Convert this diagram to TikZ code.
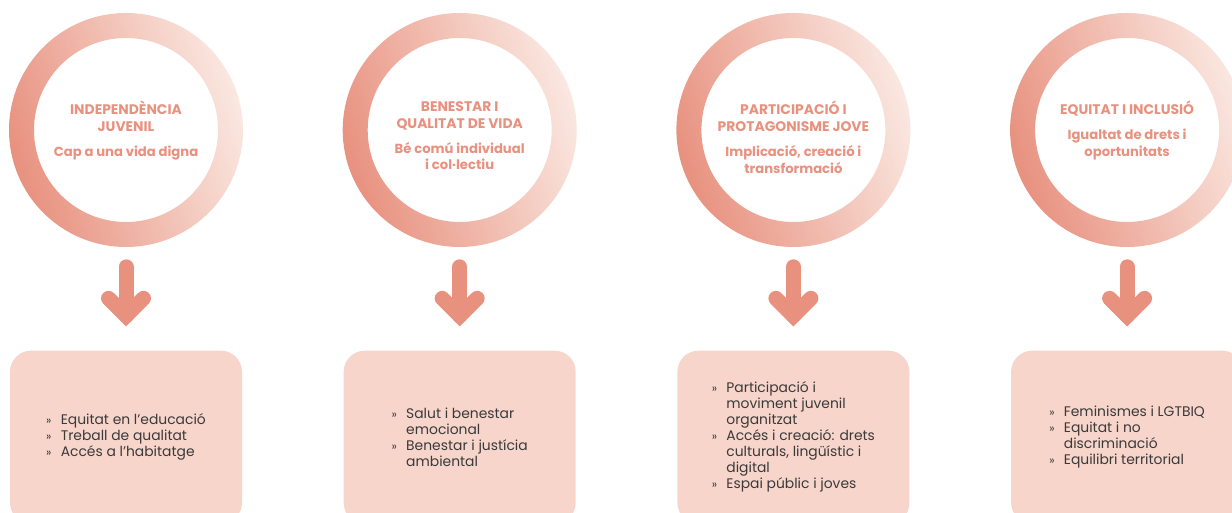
\documentclass[tikz,border=0pt]{standalone}
\usepackage{fontspec}
\setmainfont{Poppins}
\usetikzlibrary{positioning,calc}
\definecolor{salmon}{HTML}{E8917F}
\definecolor{ringlight}{HTML}{FAE8E1}
\definecolor{boxfill}{HTML}{F7D5CA}
\definecolor{textdark}{HTML}{3A3A3A}
\newcommand{\itm}{\makebox[1.05em][l]{\fontsize{6.5}{6.5}\selectfont »}}
\newcommand{\cnt}{\hspace*{1.05em}}
\newcommand{\sub}{\fontsize{7.5}{9.1}\selectfont}

\begin{document}
\begin{tikzpicture}[
    node distance=1.98cm,
    ring/.style={circle, minimum size=4.68cm, inner sep=0pt},
    ringshade/.style={even odd rule, bottom color=salmon, middle color=salmon!78!ringlight, top color=ringlight, shading angle=-72},
    ringtext/.style={anchor=north, align=center, inner sep=0pt, text=salmon, font=\fontsize{7.9}{9.6}\selectfont\bfseries},
    itembox/.style={rectangle, rounded corners=0.42cm, fill=boxfill, minimum width=4.64cm, minimum height=3.46cm, inner sep=0pt, align=left, text=textdark, font=\fontsize{7.9}{9.1}\selectfont},
    shaft/.style={salmon, line width=0.3cm, line cap=round}
]
\useasboundingbox (0,0) rectangle (24.64,10.26);

% Circles
\node[ring] (c1) at (2.52,7.66) {};
\node[ring, right=of c1] (c2) {};
\node[ring, right=of c2] (c3) {};
\node[ring, right=of c3] (c4) {};
\foreach \i in {1,...,4}
  \shade[ringshade] (c\i.center) circle (2.34) (c\i.center) circle (1.84);

% Circle titles
\node[ringtext] (t1) at ([yshift=0.58cm]c1.center) {INDEPENDÈNCIA\\JUVENIL\\[4.6pt]\sub Cap a una vida digna};
\node[ringtext] (t2) at ([yshift=0.58cm]c2.center) {BENESTAR I\\QUALITAT DE VIDA\\[4.6pt]\sub Bé comú individual\\\sub i col·lectiu};
\node[ringtext] (t3) at ([yshift=0.58cm]c3.center) {PARTICIPACIÓ I\\PROTAGONISME JOVE\\[4.6pt]\sub Implicació, creació i\\\sub transformació};
\node[ringtext] (t4) at ([yshift=0.58cm]c4.center) {EQUITAT I INCLUSIÓ\\[4.6pt]\sub Igualtat de drets i\\\sub oportunitats};

% Boxes
\node[itembox, below=2.06cm of c1] (b1) {\itm Equitat en l’educació\\ \itm Treball de qualitat\\ \itm Accés a l’habitatge};
\node[itembox, below=2.06cm of c2] (b2) {\itm Salut i benestar\\ \cnt emocional\\ \itm Benestar i justícia\\ \cnt ambiental};
\node[itembox, below=2.06cm of c3] (b3) {\itm Participació i\\ \cnt moviment juvenil\\ \cnt organitzat\\ \itm Accés i creació: drets\\ \cnt culturals, lingüístic i\\ \cnt digital\\ \itm Espai públic i joves};
\node[itembox, below=2.06cm of c4] (b4) {\itm Feminismes i LGTBIQ\\ \itm Equitat i no\\ \cnt discriminació\\ \itm Equilibri territorial};

% Arrows
\foreach \i in {1,...,4} {
  \draw[shaft] ($(c\i.south)+(0,-0.39)$) -- ($(b\i.north)+(0,0.69)$);
  \draw[shaft] ($(b\i.north)+(-0.35,1.04)$) -- ($(b\i.north)+(0,0.69)$) -- ($(b\i.north)+(0.35,1.04)$);
}

\end{tikzpicture}
\end{document}
